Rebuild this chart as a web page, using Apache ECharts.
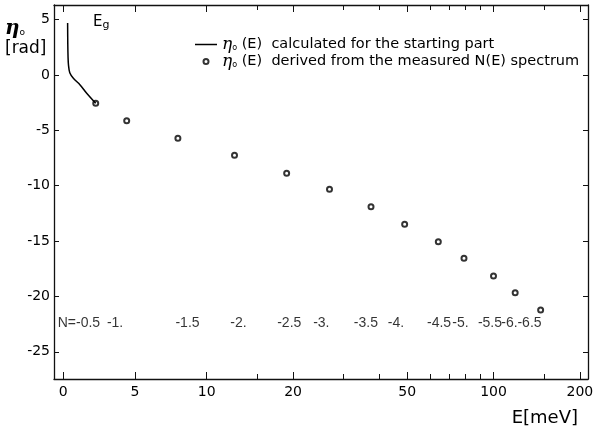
<!DOCTYPE html>
<html>
<head>
<meta charset="utf-8">
<style>
    html, body { margin: 0; padding: 0; background: #fff; }
    #chart { width: 598px; height: 432px; }
</style>
</head>
<body>
<div id="chart"></div>
<script src="https://cdn.jsdelivr.net/npm/echarts@6/dist/echarts.min.js"></script>
<script>
// E in meV, eta0 in rad
var curveE   = [0.30, 0.31, 0.33, 0.36, 0.45, 0.70, 1.17, 1.63, 2.26];
var curveEta = [4.7, 2.9, 1.6, 0.9, 0.2, -0.3, -0.9, -1.65, -2.56];

var pointE   = [2.26, 4.42, 7.99, 12.5, 19.0, 26.8, 37.4, 49.0, 64.2, 78.9, 100, 119, 146];
var pointEta = [-2.56, -4.13, -5.72, -7.25, -8.88, -10.33, -11.9, -13.49, -15.06, -16.56, -18.16, -19.67, -21.23];

var nLabels = ['N=-0.5', '-1.', '-1.5', '-2.', '-2.5', '-3.', '-3.5', '-4.', '-4.5', '-5.', '-5.5', '-6.', '-6.5'];
var nLabelE = [1.09, 3.61, 8.66, 12.9, 19.4, 25.1, 35.9, 45.7, 64.6, 76.7, 97.2, 113.7, 133.5];
var nRowEta = -22.4;

var majorE = [0, 5, 10, 20, 50, 100, 200];
var minorE = [15, 30, 40, 60, 70, 80, 90, 150];
var yTicks = [-25, -20, -15, -10, -5, 0, 5];

var legendNames = ['calc', 'meas'];
var legendTexts = ['calculated for the starting part', 'derived from the measured N(E) spectrum'];

// the E axis is linear up to 10 meV and logarithmic above
function t(e) { return e <= 10 ? e / 10 : 1 + 2 * Math.log10(e / 10); }
function inv(v) { return v <= 1 ? v * 10 : 10 * Math.pow(10, (v - 1) / 2); }

var font = 'DejaVu Sans';
var xMin = -0.065, xMax = 3.659;
var yMin = -27.46, yMax = 6.32;

var etaRich = {
    eta: { fontFamily: 'DejaVu Serif', fontStyle: 'italic', fontSize: 17, color: '#000', lineHeight: 17 },
    sub: { fontFamily: font, fontSize: 8, color: '#000', padding: [7, 0, 0, 0] },
    txt: { fontFamily: font, fontSize: 14.5, color: '#000', lineHeight: 17 }
};

function xAxisDef(pos, ticks, len, showLine, showLabel) {
    return {
        type: 'value', position: pos, min: xMin, max: xMax,
        axisLine: { show: showLine, onZero: false, lineStyle: { color: '#111', width: 1.3 } },
        axisTick: { show: true, inside: true, length: len, customValues: ticks.map(t),
            lineStyle: { color: '#111', width: 1 } },
        axisLabel: { show: showLabel, customValues: ticks.map(t), margin: 6,
            fontFamily: font, fontSize: 14, color: '#000',
            formatter: function (v) { return String(Math.round(inv(v))); } },
        splitLine: { show: false },
        name: showLabel ? 'E[meV]' : '',
        nameLocation: 'end', nameGap: -10,
        nameTextStyle: { fontFamily: font, fontSize: 18, color: '#000', align: 'right',
            verticalAlign: 'top', padding: [30, 0, 0, 0] }
    };
}

function yAxisDef(pos, showLabel) {
    return {
        type: 'value', position: pos, min: yMin, max: yMax,
        axisLine: { show: true, onZero: false, lineStyle: { color: '#111', width: 1.3 } },
        axisTick: { show: true, inside: true, length: 5, customValues: yTicks,
            lineStyle: { color: '#111', width: 1 } },
        axisLabel: { show: showLabel, customValues: yTicks, margin: 4,
            fontFamily: font, fontSize: 14, color: '#000' },
        splitLine: { show: false }
    };
}

var chart = echarts.init(document.getElementById('chart'), null, { renderer: 'canvas' });

var option = {
    animation: false,
    backgroundColor: '#fff',
    grid: { left: 54, right: 10, top: 5, bottom: 53 },
    xAxis: [
        xAxisDef('bottom', majorE, 7, true, true),
        xAxisDef('top', majorE, 7, true, false),
        xAxisDef('bottom', minorE, 5, false, false),
        xAxisDef('top', minorE, 5, false, false)
    ],
    yAxis: [yAxisDef('left', true), yAxisDef('right', false)],
    legend: {
        left: 190, top: 31, orient: 'vertical',
        itemWidth: 22, itemHeight: 5, itemGap: 0,
        data: [
            { name: legendNames[0], icon: 'path://M0,0H22V1.5H0Z' },
            { name: legendNames[1] }
        ],
        formatter: function (name) {
            return '{eta|η}{sub|o}{txt| (E)  ' + legendTexts[legendNames.indexOf(name)] + '}';
        },
        textStyle: { rich: etaRich },
        selectedMode: false
    },
    graphic: [
        { type: 'text', left: 5, top: 19,
          style: { text: '{eta|η}{sub|o}\n{txt|[rad]}', rich: {
              eta: { fontFamily: 'DejaVu Serif', fontStyle: 'italic', fontSize: 20, fontWeight: 'bold', color: '#000' },
              sub: { fontFamily: font, fontSize: 9, color: '#000', padding: [8, 0, 0, 0] },
              txt: { fontFamily: font, fontSize: 17, color: '#000', lineHeight: 20 } } } },
        { type: 'text', left: 93, top: 15,
          style: { text: '{e|E}{g|g}', rich: {
              e: { fontFamily: font, fontSize: 15, color: '#000' },
              g: { fontFamily: font, fontSize: 11, color: '#000', padding: [6, 0, 0, 0] } } } }
    ],
    series: [
        {
            name: 'calc', type: 'line', xAxisIndex: 0, yAxisIndex: 0,
            symbol: 'none', smooth: 0.3,
            itemStyle: { color: '#000' },
            lineStyle: { color: '#000', width: 1.5 },
            data: curveE.map(function (e, i) { return [t(e), curveEta[i]]; })
        },
        {
            name: 'meas', type: 'scatter', xAxisIndex: 0, yAxisIndex: 0,
            symbol: 'emptyCircle', symbolSize: 5,
            itemStyle: { color: '#000', borderColor: '#000', borderWidth: 1.3 },
            data: pointE.map(function (e, i) { return [t(e), pointEta[i]]; })
        },
        {
            name: 'N', type: 'scatter', xAxisIndex: 0, yAxisIndex: 0,
            symbolSize: 1, itemStyle: { color: 'rgba(0,0,0,0)' },
            label: { show: true, position: 'inside', fontFamily: 'Liberation Sans', fontSize: 14, color: '#000',
                formatter: function (p) { return nLabels[p.dataIndex]; } },
            data: nLabelE.map(function (e) { return [t(e), nRowEta]; })
        }
    ]
};
chart.setOption(option);
</script>
</body>
</html>
